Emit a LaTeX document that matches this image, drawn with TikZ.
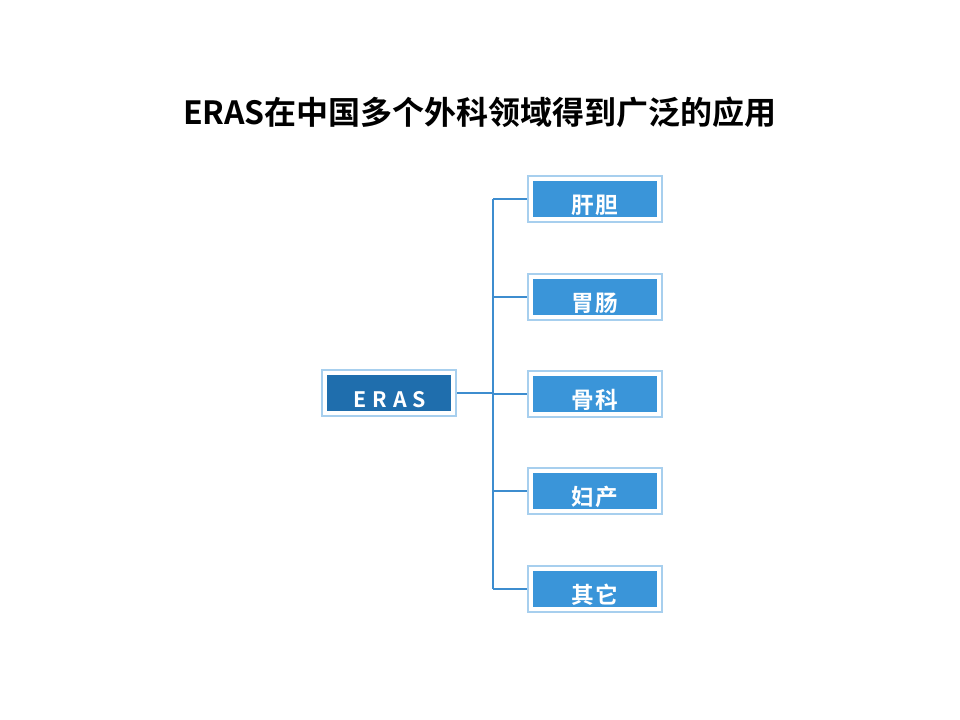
\documentclass[tikz,border=0pt]{standalone}
\usepackage{fontspec}
\setmainfont{Noto Sans CJK SC}
\newfontfamily\cjkb{Noto Sans CJK SC Bold}
\newfontfamily\cjkbs[LetterSpace=6]{Noto Sans CJK SC Bold}
\newfontfamily\latb[LetterSpace=28]{Noto Sans CJK SC Bold}
\definecolor{outerc}{HTML}{A7CFEE}
\definecolor{innerc}{HTML}{3A95D9}
\definecolor{erasc}{HTML}{1F6EAD}
\definecolor{linec}{HTML}{3D8DCF}
\tikzset{
  outerbox/.style={draw=outerc, line width=1.6pt, fill=white, minimum width=100.5pt, minimum height=34.5pt, inner sep=0pt},
  innerbox/.style={fill=innerc, draw=none, minimum width=93pt, minimum height=27.5pt, inner sep=0pt},
  erasinner/.style={innerbox, fill=erasc},
  lbl/.style={text=white, font=\cjkbs\fontsize{17}{17}\selectfont, inner sep=0pt},
  conn/.style={draw=linec, line width=1.1pt}
}
\begin{document}
\begin{tikzpicture}[x=0.75pt,y=-0.75pt]
\useasboundingbox[fill=white] (0,0) rectangle (960,720);
\node[font=\cjkb\fontsize{24}{24}\selectfont, inner sep=0pt] (title) at (480,112) {ERAS在中国多个外科领域得到广泛的应用};
% ERAS box
\node[outerbox] (eras) at (389,393) {};
\node[erasinner] (erasin) at (389,393) {};
\node[lbl, font=\latb\fontsize{16}{16}\selectfont] (erast) at (390,400) {ERAS};
% right boxes
\foreach \n/\y/\t in {b1/199/肝胆, b2/297/胃肠, b3/394/骨科, b4/491/妇产, b5/589/其它}{
  \node[outerbox] (\n) at (595,\y) {};
  \node[innerbox] (\n in) at (595,\y) {};
  \node[lbl] (\n t) at (595,\y+6) {\t};
}
\coordinate (jt) at (493,199);
\coordinate (jb) at (493,589);
\draw[conn] (jt) -- (jb);
\draw[conn] (eras.east) -- (eras.east -| jt);
\foreach \n in {b1,b2,b3,b4,b5}{
  \draw[conn] (\n.west) -- (\n.west -| jt);
}
\end{tikzpicture}
\end{document}
